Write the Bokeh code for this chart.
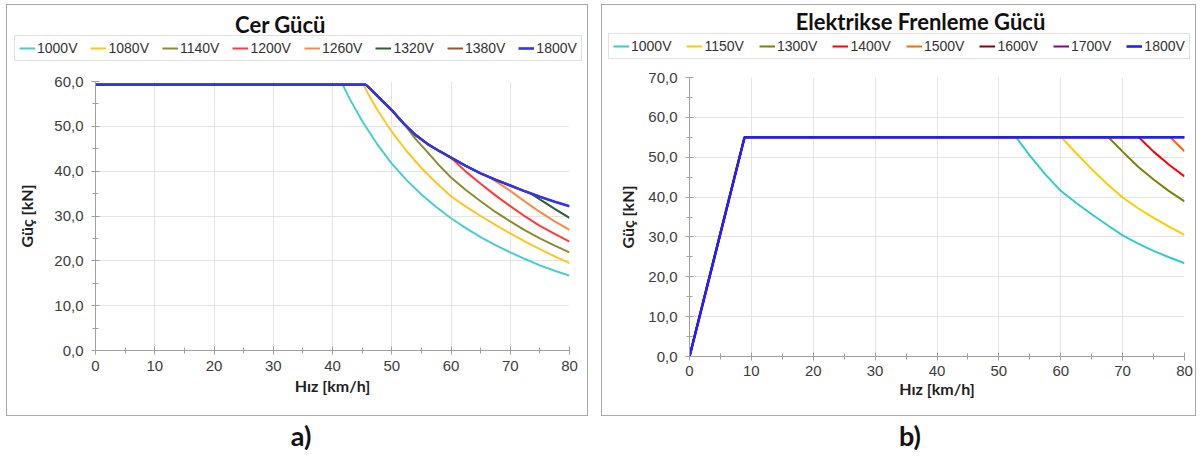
from bokeh.plotting import figure
from bokeh.models import (Legend, LegendItem, Label, Range1d, FixedTicker,
                          CustomJSTickFormatter, Div)
from bokeh.embed import file_html
from bokeh.resources import INLINE

# ---------------- panel a) Cer Gücü (values read from the picture) ----------------
cer_labels = ["1000V", "1080V", "1140V", "1200V", "1260V", "1320V", "1380V", "1800V"]
cer_colors = ["#45CFCF", "#FFC61E", "#8C8C2C", "#FF3B3B", "#FF8A3D", "#2F5E2F", "#A0522D", "#3434E6"]

cer_1000_v = [0, 41.7, 43, 45, 47.5, 50, 52.5, 55, 57.5, 60, 62.5, 65, 67.5, 70, 72.5, 75, 77.5, 80]
cer_1000_f = [59.3, 59.3, 55.9, 51.2, 46.1, 41.7, 38.0, 34.8, 32.0, 29.5, 27.3, 25.3, 23.5, 21.9, 20.4, 19.0, 17.8, 16.7]

cer_1080_v = [0, 45.2, 46.5, 47.5, 50, 52.5, 55, 57.5, 60, 62.5, 65, 67.5, 70, 72.5, 75, 77.5, 80]
cer_1080_f = [59.3, 59.3, 56.1, 53.8, 48.8, 44.5, 40.7, 37.4, 34.4, 32.1, 30.0, 28.0, 26.1, 24.3, 22.6, 21.0, 19.5]

cer_1140_v = [0, 45.6, 46.5, 48, 50, 52.1, 54, 56, 58, 60, 62.5, 65, 67.5, 70, 72.5, 75, 77.5, 80]
cer_1140_f = [59.3, 59.3, 58.2, 56.2, 53.6, 50.5, 47.2, 44.3, 41.3, 38.6, 35.8, 33.3, 30.9, 28.8, 26.8, 25.0, 23.4, 21.9]

cer_1200_v = [0, 45.6, 46.5, 48, 50, 52.1, 54, 56, 58, 60, 62.5, 65, 67.5, 70, 72.5, 75, 77.5, 80]
cer_1200_f = [59.3, 59.3, 58.2, 56.2, 53.6, 50.5, 48.1, 46.1, 44.5, 43.0, 39.9, 37.2, 34.6, 32.2, 29.9, 27.8, 26.0, 24.3]

cer_1260_v = [0, 45.6, 46.5, 48, 50, 52.1, 54, 56, 58, 60, 62.5, 65, 66.7, 70, 72.5, 75, 77.5, 80]
cer_1260_f = [59.3, 59.3, 58.2, 56.2, 53.6, 50.5, 48.1, 46.1, 44.5, 43.0, 41.2, 39.5, 38.5, 35.6, 33.2, 30.9, 28.8, 26.9]

cer_1320_v = [0, 45.6, 46.5, 48, 50, 52.1, 54, 56, 58, 60, 62.5, 65, 67.5, 70, 72.5, 73.5, 75, 77.5, 80]
cer_1320_f = [59.3, 59.3, 58.2, 56.2, 53.6, 50.5, 48.1, 46.1, 44.5, 43.0, 41.2, 39.5, 38.1, 36.8, 35.5, 35.0, 33.7, 31.6, 29.6]

cer_1380_v = [0, 45.6, 46.5, 48, 50, 52.1, 54, 56, 58, 60, 62.5, 65, 67.5, 70, 72.5, 75, 77.5, 80]
cer_1380_f = [59.3, 59.3, 58.2, 56.2, 53.6, 50.5, 48.1, 46.1, 44.5, 43.0, 41.2, 39.5, 38.1, 36.8, 35.5, 34.3, 33.2, 32.2]

cer_1800_v = [0, 45.6, 46.5, 48, 50, 52.1, 54, 56, 58, 60, 62.5, 65, 67.5, 70, 72.5, 75, 77.5, 80]
cer_1800_f = [59.3, 59.3, 58.2, 56.2, 53.6, 50.5, 48.1, 46.1, 44.5, 43.0, 41.2, 39.5, 38.1, 36.8, 35.5, 34.3, 33.2, 32.2]

# ---------------- panel b) Elektrikse Frenleme Gücü ----------------
fren_labels = ["1000V", "1150V", "1300V", "1400V", "1500V", "1600V", "1700V", "1800V"]
fren_colors = ["#33CCCC", "#FFCC00", "#808000", "#FF0000", "#FF6A00", "#8B0000", "#8B008B", "#2020FF"]

fren_1000_v = [0, 8.9, 52.8, 55, 57.5, 60, 62.5, 65, 67.5, 70, 72.5, 75, 77.5, 80]
fren_1000_f = [0, 55, 55, 50.4, 45.7, 41.6, 38.5, 35.7, 33.0, 30.4, 28.3, 26.5, 24.9, 23.4]

fren_1150_v = [0, 8.9, 60.1, 62.5, 65, 67.5, 70, 72.5, 75, 77.5, 80]
fren_1150_f = [0, 55, 55, 51.0, 47.0, 43.3, 39.9, 37.2, 34.8, 32.6, 30.5]

fren_1300_v = [0, 8.9, 67.7, 70, 72.5, 75, 77.5, 80]
fren_1300_f = [0, 55, 55, 51.4, 47.6, 44.4, 41.5, 38.9]

fren_1400_v = [0, 8.9, 72.6, 75, 77.5, 80]
fren_1400_f = [0, 55, 55, 51.4, 48.1, 45.2]

fren_1500_v = [0, 8.9, 77.7, 78.9, 80]
fren_1500_f = [0, 55, 55, 53.2, 51.5]

fren_1600_v = [0, 8.9, 80]
fren_1600_f = [0, 55, 55]

fren_1700_v = [0, 8.9, 80]
fren_1700_f = [0, 55, 55]

fren_1800_v = [0, 8.9, 80]
fren_1800_f = [0, 55, 55]

x_label = "Hız [km/h]"
y_label = "Güç [kN]"

cer_series = [(cer_1000_v, cer_1000_f), (cer_1080_v, cer_1080_f), (cer_1140_v, cer_1140_f),
              (cer_1200_v, cer_1200_f), (cer_1260_v, cer_1260_f), (cer_1320_v, cer_1320_f),
              (cer_1380_v, cer_1380_f), (cer_1800_v, cer_1800_f)]
fren_series = [(fren_1000_v, fren_1000_f), (fren_1150_v, fren_1150_f), (fren_1300_v, fren_1300_f),
               (fren_1400_v, fren_1400_f), (fren_1500_v, fren_1500_f), (fren_1600_v, fren_1600_f),
               (fren_1700_v, fren_1700_f), (fren_1800_v, fren_1800_f)]

TICK_FONT = "Liberation Sans"
TITLE_FONT = "Lato"


def abs_style(left, top, z, extra=None):
    s = {"position": "absolute", "left": f"{left}px", "top": f"{top}px", "z-index": str(z)}
    if extra:
        s.update(extra)
    return s


def make_backdrop(left, top, width, height, series, labels, colors, title, title_x, title_y,
                  legend_loc, legend_spacing):
    """Panel frame with its title and legend (drawn behind the chart).
    The legend proxies use the same series, scrolled out of this backdrop's view."""
    b = figure(width=width, height=height, x_range=Range1d(-20, -10), y_range=Range1d(0, 1),
               output_backend="svg", toolbar_location=None, title=None,
               x_axis_location=None, y_axis_location=None, min_border=0,
               styles=abs_style(left - 1, top - 1, 0, {"border": "1px solid #a9a9a9"}))
    b.grid.visible = False
    b.outline_line_color = None
    b.background_fill_color = "white"
    b.border_fill_color = "white"
    items = []
    for (v, f), lab, col in zip(series, labels, colors):
        lw = 2.6 if lab == "1800V" else 2.0
        r = b.line(v, f, line_color=col, line_width=lw)
        items.append(LegendItem(label=lab, renderers=[r]))
    legend = Legend(items=items, orientation="horizontal", location=legend_loc,
                    border_line_color="#c4c4c4", border_line_width=1,
                    background_fill_color="white", background_fill_alpha=1.0,
                    label_text_font=TICK_FONT, label_text_font_size="14px",
                    label_text_color="#333333", glyph_width=16, glyph_height=14,
                    label_height=14, label_standoff=2, spacing=legend_spacing,
                    padding=4, margin=0)
    b.add_layout(legend, "center")
    b.add_layout(Label(x=title_x, y=title_y, x_units="screen", y_units="screen",
                       text=title, text_align="center", text_baseline="alphabetic",
                       text_font=TITLE_FONT, text_font_style="bold",
                       text_font_size="22px", text_color="#111111"))
    return b


def make_chart(left, top, width, height, y_max, borders, series, colors,
               x_stand, y_stand, ylab_stand, xlab_stand):
    bl, br, bt, bb = borders
    p = figure(width=width, height=height, x_range=Range1d(0, 80), y_range=Range1d(0, y_max),
               output_backend="svg", toolbar_location=None, title=None,
               min_border_left=bl, min_border_right=br, min_border_top=bt, min_border_bottom=bb,
               styles=abs_style(left, top, 1))
    p.outline_line_color = None
    p.background_fill_alpha = 0
    p.border_fill_alpha = 0

    p.xaxis.ticker = FixedTicker(ticks=list(range(0, 81, 10)), minor_ticks=list(range(0, 81, 5)))
    p.yaxis.ticker = FixedTicker(ticks=list(range(0, y_max + 1, 10)),
                                 minor_ticks=list(range(0, y_max + 1, 5)))
    p.yaxis.formatter = CustomJSTickFormatter(code="return tick.toFixed(1).replace('.', ',');")
    for ax in (p.xaxis[0], p.yaxis[0]):
        ax.axis_line_color = "#a0a0a0"
        ax.major_tick_line_color = "#a0a0a0"
        ax.minor_tick_line_color = "#a0a0a0"
        ax.major_tick_in = 4
        ax.major_tick_out = 4
        ax.minor_tick_in = 3
        ax.minor_tick_out = 3
        ax.major_label_text_font = TICK_FONT
        ax.major_label_text_font_size = "15px"
        ax.major_label_text_color = "#3c3c3c"
        ax.axis_label_text_font = TITLE_FONT
        ax.axis_label_text_font_style = "bold"
        ax.axis_label_text_font_size = "16px"
        ax.axis_label_text_color = "#1e1e1e"
    p.xaxis.axis_label = x_label
    p.yaxis.axis_label = y_label
    p.xaxis.major_label_standoff = x_stand
    p.yaxis.major_label_standoff = y_stand
    p.xaxis.axis_label_standoff = xlab_stand
    p.yaxis.axis_label_standoff = ylab_stand

    p.xgrid.grid_line_color = "#e4e4e4"
    p.ygrid.grid_line_color = "#e4e4e4"

    for (v, f), col in zip(series, colors):
        lw = 2.6 if col == colors[-1] else 2.0
        p.line(v, f, line_color=col, line_width=lw)
    return p


# panel a): canvas spans page x 7..588, y 5..416
bg_a = make_backdrop(7, 5, 582, 412, cer_series, cer_labels, cer_colors, "Cer Gücü",
                     273, 393, (7, 356), 13)
ch_a = make_chart(7, 5, 582, 412, 60, (88, 20, 76, 67), cer_series, cer_colors, 6, 8, 15, 2)

# panel b): canvas spans page x 602..1196, y 5..416
bg_b = make_backdrop(602, 5, 595, 412, fren_series, fren_labels, fren_colors,
                     "Elektrikse Frenleme Gücü", 318, 396, (6, 358), 15)
ch_b = make_chart(602, 5, 595, 412, 70, (87, 13, 72, 61), fren_series, fren_colors, 5, 8, 8, 0)


def caption(text, center_x):
    return Div(text=f'<div style="width:60px;text-align:center;font-family:Lato,sans-serif;'
                    f'font-weight:bold;font-size:27px;line-height:36px;color:#111;">{text}</div>',
               width=60, height=36, styles=abs_style(center_x - 30, 413, 2))


div_a = caption("a)", 296)
div_b = caption("b)", 905)

open("out.html", "w").write(file_html([bg_a, ch_a, bg_b, ch_b, div_a, div_b], INLINE))
